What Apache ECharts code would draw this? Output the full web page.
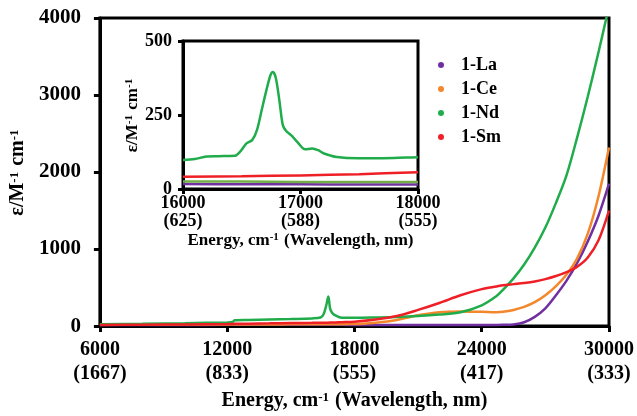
<!DOCTYPE html>
<html>
<head>
<meta charset="utf-8">
<script src="https://cdn.jsdelivr.net/npm/echarts@6/dist/echarts.min.js"></script>
<style>
  html, body { margin: 0; padding: 0; background: #fff; }
</style>
</head>
<body>
<div id="chart" style="width: 637px;height:416px;"></div>
<script>
// main panel: energy (cm-1) and absorptivity for each complex
var energy = [6000, 8000, 10000, 12000, 12250, 12350, 13000, 14000, 15000, 16000, 16400, 16550, 16680, 16770, 16850,
  16950, 17100, 17400, 18000, 19000, 20000, 21000, 22000, 23000, 24000, 24700, 25000, 25500, 26000, 26500,
  27000, 27500, 28000, 28500, 29000, 29500, 30000];
var la = [15, 15, 15, 16, 16, 16, 16, 16, 16, 16, 16, 16, 16, 16, 16,
  16, 16, 16, 15, 15, 15, 15, 15, 15, 15, 15, 16, 22, 50, 120,
  230, 400, 590, 820, 1100, 1430, 1850];
var ce = [18, 19, 20, 21, 21, 21, 22, 22, 23, 24, 24, 24, 24, 24, 25,
  25, 25, 25, 26, 45, 80, 140, 180, 190, 185, 180, 185, 210, 250, 310,
  400, 520, 670, 880, 1200, 1680, 2320];
var nd = [25, 30, 38, 48, 52, 75, 80, 86, 92, 100, 112, 158, 280, 385, 230,
  170, 138, 108, 108, 112, 118, 130, 150, 180, 270, 390, 470, 620, 800, 1020,
  1280, 1600, 1960, 2450, 2980, 3550, 4150];
var sm = [15, 18, 22, 27, 28, 29, 32, 36, 40, 42, 44, 44, 45, 45, 46,
  46, 47, 50, 57, 85, 130, 210, 300, 400, 480, 515, 530, 545, 560, 580,
  610, 650, 700, 770, 890, 1110, 1500];

// inset: 16000-18000 cm-1
var insetEnergy = [16000, 16100, 16200, 16300, 16440, 16490, 16540, 16590, 16630, 16670, 16710, 16745, 16765, 16790,
  16820, 16850, 16880, 16920, 16970, 17040, 17100, 17150, 17200, 17310, 17500, 17700, 17900, 18000];
var insetNd = [98, 101, 110, 111, 112, 128, 154, 166, 200, 267, 334, 385, 395, 375,
  300, 215, 195, 182, 160, 134, 137, 131, 120, 108, 104, 104, 106, 107];
var insetE2 = [16000, 16500, 17000, 17500, 18000];
var insetSm = [41, 43, 46, 50, 57];
var insetCe = [25, 25, 24, 24, 24];
var insetLa = [17, 16, 16, 15, 15];

var names = ['1-La', '1-Ce', '1-Nd', '1-Sm'];
var colors = ['#7030A0', '#F4862B', '#21AC4B', '#EE2026'];

var mainTicks = [6000, 12000, 18000, 24000, 30000];
var mainTickNm = ['1667', '833', '555', '417', '333'];
var insetTicks = [16000, 17000, 18000];
var insetTickNm = ['625', '588', '555'];

var font = "'Liberation Serif', 'Times New Roman', serif";

function pairs(xs, ys) {
  return xs.map(function (x, i) { return [x, ys[i]]; });
}

function supRich(size) {
  return {
    sup: { fontSize: size, fontWeight: 'bold', fontFamily: font, color: '#000', verticalAlign: 'top', padding: [0, 1, 0, 0] }
  };
}

var myChart = echarts.init(document.getElementById('chart'));

var series = [];
var mainData = [la, ce, nd, sm];
mainData.forEach(function (d, i) {
  series.push({
    name: names[i],
    type: 'line',
    xAxisIndex: 0,
    yAxisIndex: 0,
    showSymbol: false,
    symbol: 'circle',
    smooth: 0.3,
    data: pairs(energy, d),
    itemStyle: { color: colors[i] },
    lineStyle: { width: 2.5, color: colors[i] }
  });
});

var insetData = [
  { name: '1-La', x: insetE2, y: insetLa, color: '#7030A0' },
  { name: '1-Ce', x: insetE2, y: insetCe, color: '#74AE48' },
  { name: '1-Sm', x: insetE2, y: insetSm, color: '#EE2026' },
  { name: '1-Nd', x: insetEnergy, y: insetNd, color: '#21AC4B' }
];
insetData.forEach(function (s) {
  series.push({
    name: s.name,
    type: 'line',
    xAxisIndex: 1,
    yAxisIndex: 1,
    showSymbol: false,
    smooth: 0.3,
    data: pairs(s.x, s.y),
    itemStyle: { color: s.color },
    lineStyle: { width: 2.5, color: s.color }
  });
});

var option = {
  animation: false,
  backgroundColor: '#fff',
  grid: [
    { left: 92, top: 18, right: 27, bottom: 84, show: true, borderColor: '#000', borderWidth: 3 },
    { left: 183, top: 41, width: 235, height: 148, show: true, borderColor: '#000', borderWidth: 3, backgroundColor: '#fff' }
  ],
  legend: {
    data: names,
    orient: 'vertical',
    left: 433,
    top: 50,
    icon: 'circle',
    itemWidth: 30,
    itemHeight: 6,
    itemGap: 4,
    textStyle: { fontFamily: font, fontWeight: 'bold', fontSize: 18, color: '#000', lineHeight: 20 }
  },
  xAxis: [
    {
      gridIndex: 0,
      type: 'value',
      min: 6000,
      max: 30000,
      interval: 6000,
      axisLine: { lineStyle: { color: '#000', width: 3 } },
      axisTick: { length: 6, lineStyle: { color: '#000', width: 3 } },
      splitLine: { show: false },
      axisLabel: {
        margin: 12,
        color: '#000',
        fontFamily: font,
        fontWeight: 'bold',
        fontSize: 20,
        lineHeight: 24,
        formatter: function (v) {
          var i = mainTicks.indexOf(v);
          return i < 0 ? '' : v + '\n(' + mainTickNm[i] + ')';
        }
      },
      name: 'Energy, cm{sup|-1} (Wavelength, nm)',
      nameLocation: 'middle',
      nameGap: 57,
      nameTextStyle: { color: '#000', fontFamily: font, fontWeight: 'bold', fontSize: 20, rich: supRich(13) }
    },
    {
      gridIndex: 1,
      type: 'value',
      min: 16000,
      max: 18000,
      interval: 1000,
      axisLine: { lineStyle: { color: '#000', width: 3 } },
      axisTick: { length: 5, lineStyle: { color: '#000', width: 3 } },
      splitLine: { show: false },
      axisLabel: {
        margin: 5,
        color: '#000',
        fontFamily: font,
        fontWeight: 'bold',
        fontSize: 18,
        lineHeight: 18,
        formatter: function (v) {
          var i = insetTicks.indexOf(v);
          return i < 0 ? '' : v + '\n(' + insetTickNm[i] + ')';
        }
      },
      name: 'Energy, cm{sup|-1} (Wavelength, nm)',
      nameLocation: 'middle',
      nameGap: 43,
      nameTextStyle: { color: '#000', fontFamily: font, fontWeight: 'bold', fontSize: 17, rich: supRich(11) }
    }
  ],
  yAxis: [
    {
      gridIndex: 0,
      type: 'value',
      min: 0,
      max: 4000,
      interval: 1000,
      axisLine: { lineStyle: { color: '#000', width: 3 } },
      axisTick: { length: 6, lineStyle: { color: '#000', width: 3 } },
      splitLine: { show: false },
      axisLabel: {
        margin: 19, color: '#000', fontFamily: font, fontWeight: 'bold', fontSize: 21,
        formatter: function (v) { return String(v); }
      },
      name: 'ε/M{sup|-1} cm{sup|-1}',
      nameLocation: 'middle',
      nameGap: 56,
      nameTextStyle: { color: '#000', fontFamily: font, fontWeight: 'bold', fontSize: 20, rich: supRich(13) }
    },
    {
      gridIndex: 1,
      type: 'value',
      min: 0,
      max: 500,
      interval: 250,
      axisLine: { lineStyle: { color: '#000', width: 3 } },
      axisTick: { length: 5, lineStyle: { color: '#000', width: 3 } },
      splitLine: { show: false },
      axisLabel: {
        margin: 11, color: '#000', fontFamily: font, fontWeight: 'bold', fontSize: 18,
        formatter: function (v) { return String(v); }
      },
      name: 'ε/M{sup|-1} cm{sup|-1}',
      nameLocation: 'middle',
      nameGap: 38,
      nameTextStyle: { color: '#000', fontFamily: font, fontWeight: 'bold', fontSize: 17, rich: supRich(11) }
    }
  ],
  series: series
};

myChart.setOption(option);
</script>
</body>
</html>
